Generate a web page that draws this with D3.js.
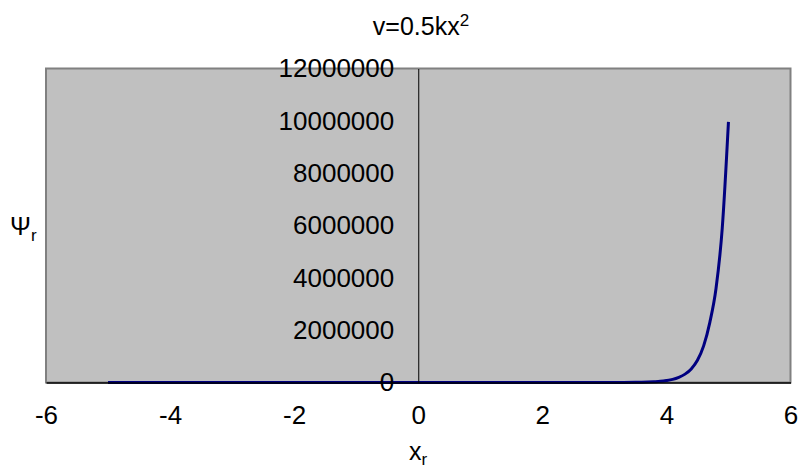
<!DOCTYPE html>
<html lang="en">
<head>
  <meta charset="UTF-8" />
  <title>v=0.5kx2</title>
  <script src="https://d3js.org/d3.v7.min.js"></script>
  <style>
    html, body { margin: 0; padding: 0; background: #FFFFFF; overflow: hidden; }
    svg { display: block; font-family: 'Liberation Sans', Arial, sans-serif; }
    .tick text { font-size: 26px; fill: #000000; }
    .axis-title { font-size: 25px; fill: #000000; }
  </style>
</head>
<body>
  <div id="chart"></div>
  <script>
    // x_r positions and the diverging psi_r
    const xValues = [-5, -4.5, -4, -3.5, -3, -2.5, -2, -1.5, -1, -0.5, 0, 0.5, 1, 1.5, 2, 2.5, 3, 3.5,
                     3.6, 3.7, 3.8, 3.9, 4.0, 4.1, 4.2, 4.3, 4.4, 4.5, 4.6, 4.7, 4.8, 4.9, 5.0];
    const psiValues = [0, 0, 0, 0, 0, 0, 0, 0, 0, 0, 0, 0, 0, 0, 0, 0, 1500, 7500,
                       12000, 19000, 30000, 45000, 75000, 120000, 200000, 320000, 520000, 850000,
                       1400000, 2300000, 3600000, 5900000, 9960000];
    const xTicks = [-6, -4, -2, 0, 2, 4, 6];
    const yTicks = [0, 2000000, 4000000, 6000000, 8000000, 10000000, 12000000];

    const W = 801, H = 471;
    const plot = { left: 46, right: 790.5, top: 68.5, bottom: 382.5 };

    const svg = d3.select("#chart").append("svg")
      .attr("width", W)
      .attr("height", H);

    const x = d3.scaleLinear().domain([-6, 6]).range([plot.left, plot.right]);
    const y = d3.scaleLinear().domain([0, 12000000]).range([plot.bottom, plot.top]);

    // plot area
    svg.append("rect")
      .attr("x", plot.left)
      .attr("y", plot.top)
      .attr("width", plot.right - plot.left)
      .attr("height", plot.bottom - plot.top)
      .attr("fill", "#C0C0C0")
      .attr("stroke", "#808080")
      .attr("stroke-width", 2);

    // curve
    const data = xValues.map((d, i) => ({ x: d, y: psiValues[i] }));
    svg.append("path")
      .datum(data)
      .attr("fill", "none")
      .attr("stroke", "#000080")
      .attr("stroke-width", 3)
      .attr("d", d3.line().x(d => x(d.x)).y(d => y(d.y)).curve(d3.curveMonotoneX));

    // axes cross at zero, plain hyphen for negatives like the original
    const xAxis = svg.append("g")
      .attr("transform", `translate(0,${y(0)})`)
      .call(d3.axisBottom(x).tickValues(xTicks).tickSize(0).tickPadding(23).tickFormat(d => String(d)));
    xAxis.select(".domain").attr("stroke", "#000000").attr("stroke-width", 1.5);

    const yAxis = svg.append("g")
      .attr("transform", `translate(${x(0)},0)`)
      .call(d3.axisLeft(y).tickValues(yTicks).tickSize(0).tickPadding(24).tickFormat(d => String(d)));
    yAxis.select(".domain").attr("stroke", "#000000").attr("stroke-width", 1);

    svg.selectAll(".tick text").attr("font-family", null).attr("font-size", null);

    // title
    const title = svg.append("text")
      .attr("class", "axis-title")
      .attr("x", 421)
      .attr("y", 35)
      .attr("text-anchor", "middle");
    title.append("tspan").text("v=0.5kx");
    title.append("tspan").attr("dy", -9).attr("font-size", 17).text("2");

    // x title
    const xt = svg.append("text")
      .attr("class", "axis-title")
      .attr("x", 418)
      .attr("y", 460)
      .attr("text-anchor", "middle");
    xt.append("tspan").text("x");
    xt.append("tspan").attr("dy", 5).attr("font-size", 17).text("r");

    // y title
    const yt = svg.append("text")
      .attr("class", "axis-title")
      .attr("x", 10)
      .attr("y", 235);
    yt.append("tspan").text("Ψ");
    yt.append("tspan").attr("dy", 6).attr("font-size", 17).text("r");
  </script>
</body>
</html>
